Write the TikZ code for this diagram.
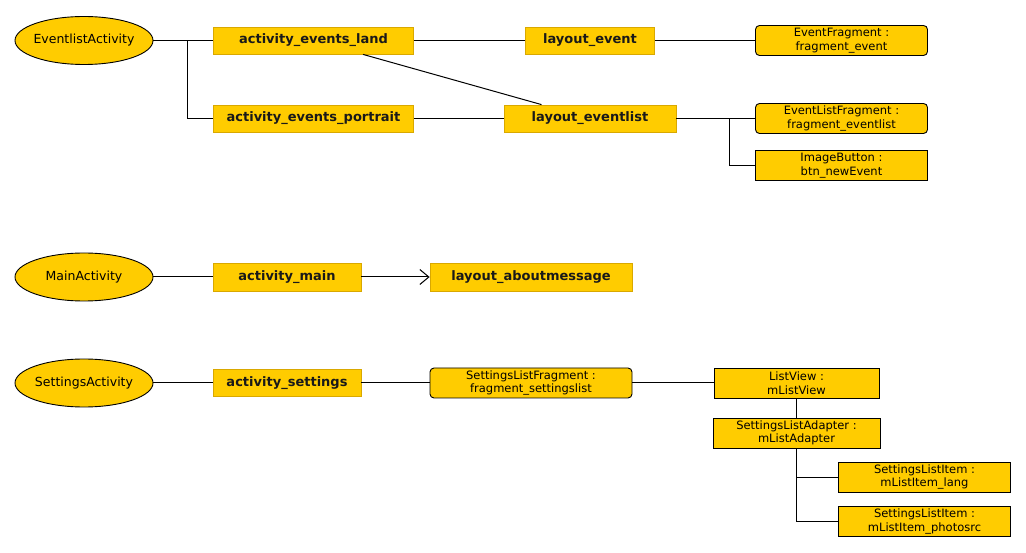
\documentclass[tikz,border=0pt]{standalone}
\usepackage{fontspec}
\setmainfont{DejaVu Sans}
\usetikzlibrary{shapes.geometric,arrows.meta,calc}
\definecolor{yel}{HTML}{FFCC00}
\definecolor{yelb}{HTML}{D9A800}
\begin{document}
\begin{tikzpicture}[x=1pt,y=-1pt,
  ell/.style={ellipse,draw=black,fill=yel,line width=0.9pt,minimum width=138pt,minimum height=48pt,inner xsep=-6pt,inner ysep=0pt,font=\fontsize{12.5}{14}\selectfont},
  bbox/.style={rectangle,draw=yelb,fill=yel,line width=0.8pt,minimum height=27pt,inner sep=0pt,font=\fontsize{13}{15}\selectfont\bfseries,text=black!90},
  rbox/.style={rectangle,rounded corners=4pt,draw=black,fill=yel,line width=0.9pt,minimum width=172pt,minimum height=30pt,inner sep=0pt,align=center,font=\fontsize{11.5}{13.5}\selectfont},
  sbox/.style={rectangle,draw=black,fill=yel,line width=0.9pt,minimum width=172pt,minimum height=30pt,inner sep=0pt,align=center,font=\fontsize{11.5}{13.5}\selectfont},
  conn/.style={draw=black,line width=1pt}]
\fill[white] (0,0) rectangle (1026,553);
\useasboundingbox (0,0) rectangle (1026,553);

% Group 1
\node[ell] (ea) at (84,40.5) {EventlistActivity};
\node[bbox,minimum width=200pt] (land) at (313.5,40.5) {activity\_events\_land};
\node[bbox,minimum width=200pt] (portrait) at (313.5,118.5) {activity\_events\_portrait};
\node[bbox,minimum width=129pt] (levent) at (590,40.5) {layout\_event};
\node[bbox,minimum width=172pt] (leventlist) at (590,118.5) {layout\_eventlist};
\node[rbox] (efrag) at (841.5,40.5) {EventFragment :\\fragment\_event};
\node[rbox] (elfrag) at (841.5,118.5) {EventListFragment :\\fragment\_eventlist};
\node[sbox] (imgbtn) at (841.5,165.5) {ImageButton :\\btn\_newEvent};

\draw[conn] (ea.east) -- (land.west);
\coordinate (j1) at (187.5,40.5);
\draw[conn] (j1) |- (portrait.west);
\draw[conn] (land.east) -- (levent.west);
\draw[conn] (levent.east) -- (efrag.west);
\draw[conn] ($(land.south)+(49.5,0)$) -- ($(leventlist.north)+(-48.5,0)$);
\draw[conn] (portrait.east) -- (leventlist.west);
\draw[conn] (leventlist.east) -- (elfrag.west);
\coordinate (j2) at (729.5,118.5);
\draw[conn] (j2) |- (imgbtn.west);

% Group 2
\node[ell] (ma) at (84,277) {MainActivity};
\node[bbox,minimum width=148pt,minimum height=28pt] (amain) at (287,277) {activity\_main};
\node[bbox,minimum width=202pt,minimum height=28pt] (about) at (531,277) {layout\_aboutmessage};
\draw[conn] (ma.east) -- (amain.west);
\draw[conn,-{Straight Barb[length=9pt,width=15pt,line width=1pt]}] (amain.east) -- (about.west);

% Group 3
\node[ell] (sa) at (84,383) {SettingsActivity};
\node[bbox,minimum width=148pt] (aset) at (287,383) {activity\_settings};
\node[rbox,minimum width=202pt] (slfrag) at (531,383) {SettingsListFragment :\\fragment\_settingslist};
\node[sbox,minimum width=165pt] (lview) at (796.5,383) {ListView :\\mListView};
\node[sbox,minimum width=167pt] (adapter) at (796.5,433) {SettingsListAdapter :\\mListAdapter};
\node[sbox] (item1) at (924.5,477) {SettingsListItem :\\mListItem\_lang};
\node[sbox] (item2) at (924.5,521.5) {SettingsListItem :\\mListItem\_photosrc};

\draw[conn] (sa.east) -- (aset.west);
\draw[conn] (aset.east) -- (slfrag.west);
\draw[conn] (slfrag.east) -- (lview.west);
\draw[conn] (lview.south) -- (adapter.north);
\draw[conn] (adapter.south) |- (item2.west);
\draw[conn] (adapter.south |- item1.west) -- (item1.west);
\end{tikzpicture}
\end{document}
